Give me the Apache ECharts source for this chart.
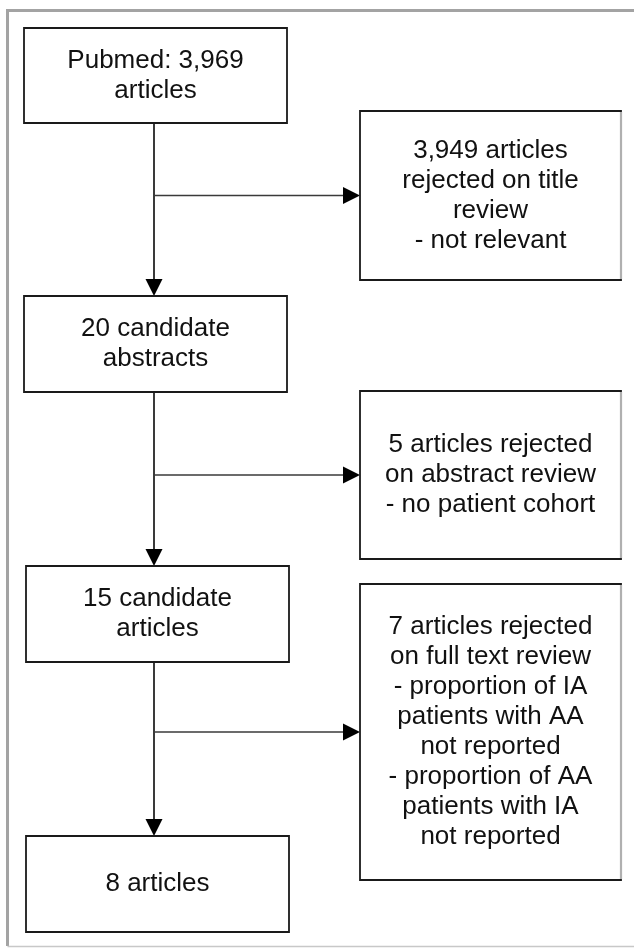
<!DOCTYPE html>
<html>
<head>
<meta charset="utf-8">
<script src="https://cdn.jsdelivr.net/npm/echarts@6/dist/echarts.min.js"></script>
<style>
    html, body { margin: 0; padding: 0; background: #fff; }
    #chart { width: 634px; height: 948px; }
</style>
</head>
<body>
<div id="chart"></div>
<script>
// texts of the flow boxes, in reading order
const boxTexts = [
    'Pubmed: 3,969\narticles',
    '3,949 articles\nrejected on title\nreview\n- not relevant',
    '20 candidate\nabstracts',
    '5 articles rejected\non abstract review\n- no patient cohort',
    '15 candidate\narticles',
    '7 articles rejected\non full text review\n- proportion of IA\npatients with AA\nnot reported\n- proportion of AA\npatients with IA\nnot reported',
    '8 articles'
]
// main path (down arrows) and exclusions (side arrows), as [from, to]
const flowLinks = [[0, 2], [2, 4], [4, 6]]
const sideLinks = [[0, 1], [2, 3], [4, 5]]

// layout in page units: [x1, y1, x2, y2]
const boxLayout = [
    [24, 28, 287, 123],
    [360, 111, 621, 280],
    [24, 296, 287, 392],
    [360, 391, 621, 559],
    [26, 566, 289, 662],
    [360, 584, 621, 880],
    [26, 836, 289, 932]
]
const spineX = 154
const headLen = 17
const headHalf = 8.5
const sideBoxes = sideLinks.map(l => l[1])

const chart = echarts.init(document.getElementById('chart'))

const boxSeries = {
    type: 'custom',
    clip: false,
    silent: true,
    data: boxLayout.map((r, i) => [r[0], r[1], r[2], r[3], i]),
    renderItem: (params, api) => {
        const p1 = api.coord([api.value(0), api.value(1)])
        const p2 = api.coord([api.value(2), api.value(3)])
        const i = api.value(4)
        const children = [
            {
                type: 'rect',
                shape: { x: p1[0], y: p1[1], width: p2[0] - p1[0], height: p2[1] - p1[1] },
                style: { fill: '#fff', stroke: '#1a1a1a', lineWidth: 1.8 }
            },
            {
                type: 'text',
                style: {
                    text: boxTexts[i],
                    x: (p1[0] + p2[0]) / 2,
                    y: (p1[1] + p2[1]) / 2,
                    align: 'center',
                    verticalAlign: 'middle',
                    fontFamily: '"Liberation Sans", Arial, sans-serif',
                    fontSize: 26,
                    lineHeight: 30,
                    fill: '#111'
                }
            }
        ]
        // the right edge of the exclusion boxes is faint in the scan
        if (sideBoxes.indexOf(i) >= 0) {
            children.push({
                type: 'line',
                shape: { x1: p2[0], y1: p1[1] + 1, x2: p2[0], y2: p2[1] - 1 },
                style: { stroke: '#b0b0b0', lineWidth: 2.2 }
            })
        }
        return { type: 'group', children }
    }
}

// arrows: kind 0 = down to next main box, kind 1 = sideways to exclusion box
const arrowData = flowLinks.map(l => [l[0], l[1], 0]).concat(sideLinks.map(l => [l[0], l[1], 1]))

const arrowSeries = {
    type: 'custom',
    clip: false,
    silent: true,
    data: arrowData,
    renderItem: (params, api) => {
        const from = boxLayout[api.value(0)]
        const to = boxLayout[api.value(1)]
        const kind = api.value(2)
        let a, b, head
        if (kind === 0) {
            a = api.coord([spineX, from[3]])
            b = api.coord([spineX, to[1]])
            head = [[b[0], b[1]], [b[0] - headHalf, b[1] - headLen], [b[0] + headHalf, b[1] - headLen]]
        } else {
            const y = (to[1] + to[3]) / 2
            a = api.coord([spineX, y])
            b = api.coord([to[0], y])
            head = [[b[0], b[1]], [b[0] - headLen, b[1] - headHalf], [b[0] - headLen, b[1] + headHalf]]
        }
        const end = kind === 0 ? [b[0], b[1] - headLen + 1] : [b[0] - headLen + 1, b[1]]
        return {
            type: 'group',
            children: [
                {
                    type: 'line',
                    shape: { x1: a[0], y1: a[1], x2: end[0], y2: end[1] },
                    style: { stroke: '#3a3a3a', lineWidth: kind === 0 ? 2 : 1.6 }
                },
                {
                    type: 'polygon',
                    shape: { points: head },
                    style: { fill: '#000' }
                }
            ]
        }
    }
}

// grey frame round the figure
const frameSeries = {
    type: 'custom',
    clip: false,
    silent: true,
    data: [[0]],
    renderItem: (params, api) => {
        const tl = api.coord([7.5, 10.5])
        const tr = api.coord([634, 10.5])
        const bl = api.coord([7.5, 946])
        const br = api.coord([634, 946])
        return {
            type: 'group',
            children: [
                { type: 'line', shape: { x1: tl[0], y1: tl[1], x2: tr[0], y2: tr[1] }, style: { stroke: '#a3a3a3', lineWidth: 3 } },
                { type: 'line', shape: { x1: tl[0], y1: tl[1] - 1.5, x2: bl[0], y2: bl[1] }, style: { stroke: '#a3a3a3', lineWidth: 3 } },
                { type: 'line', shape: { x1: bl[0], y1: bl[1] + 0.5, x2: br[0], y2: br[1] + 0.5 }, style: { stroke: '#c8c8c8', lineWidth: 1.5 } }
            ]
        }
    }
}

chart.setOption({
    animation: false,
    backgroundColor: '#fff',
    grid: { left: 0, right: 0, top: 0, bottom: 0 },
    xAxis: { type: 'value', min: 0, max: 634, show: false },
    yAxis: { type: 'value', min: 0, max: 948, inverse: true, show: false },
    series: [frameSeries, arrowSeries, boxSeries]
})
</script>
</body>
</html>
